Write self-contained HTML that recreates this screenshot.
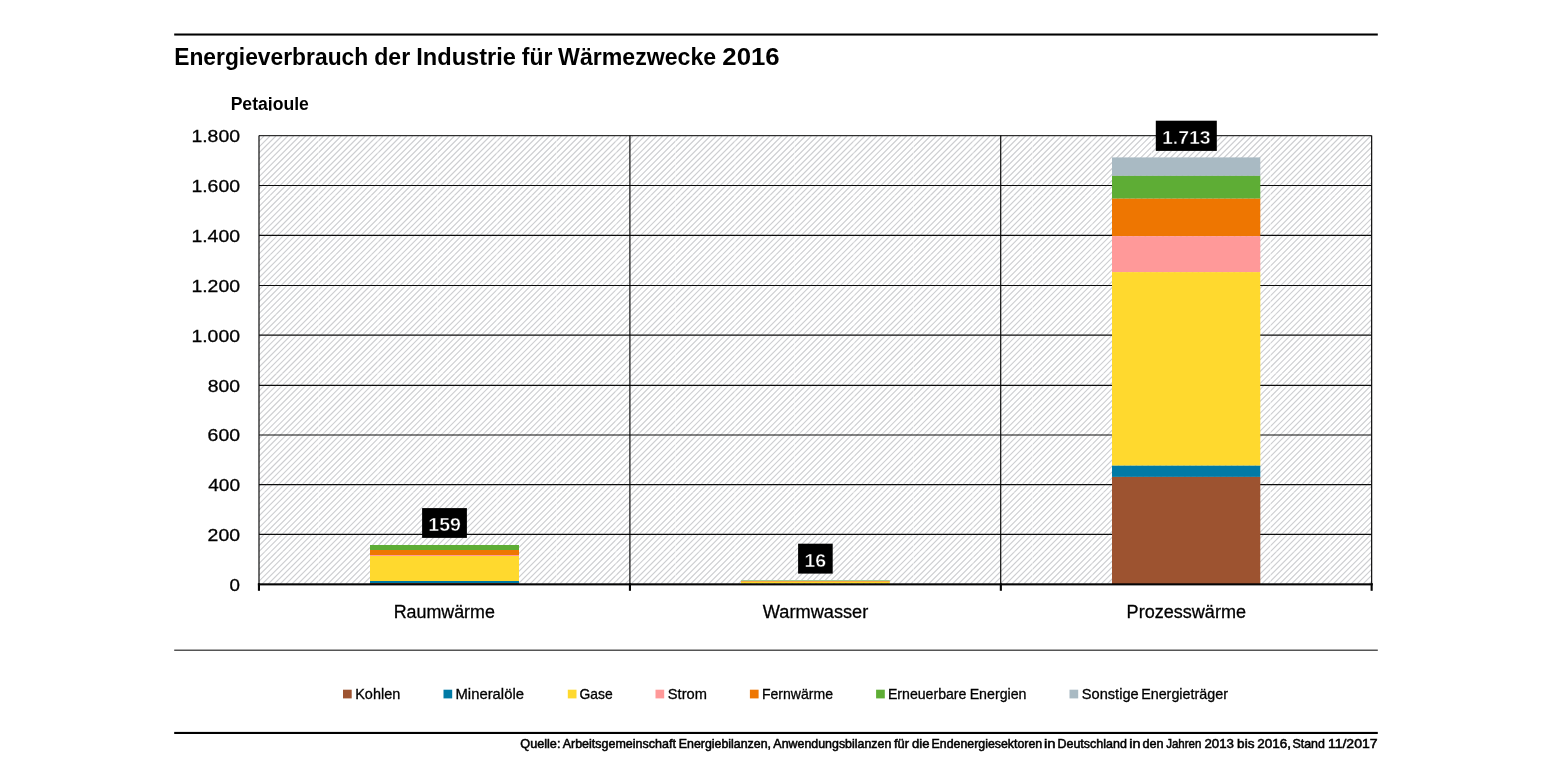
<!DOCTYPE html>
<html lang="de">
<head>
<meta charset="utf-8">
<title>Energieverbrauch der Industrie für Wärmezwecke 2016</title>
<style>
  html, body { margin: 0; padding: 0; background: #ffffff; }
  body { width: 1545px; height: 775px; overflow: hidden; position: relative;
         font-family: "Liberation Sans", sans-serif; }
  svg { position: absolute; left: 0; top: 0; display: block; will-change: transform; }
  text { font-family: "Liberation Sans", sans-serif; fill: #000; }
  .b { font-weight: bold; }
</style>
</head>
<body>
<svg width="1545" height="775" viewBox="0 0 1545 775">
  <defs>
    <clipPath id="plotclip"><rect x="259" y="135.6" width="1112.65" height="448.4"/></clipPath>
  </defs>

  <!-- top rule -->
  <rect x="174.2" y="33.5" width="1203.6" height="2.05" fill="#000"/>
  <!-- title -->
  <text class="b" y="64.80" font-size="24"><tspan x="174.19" textLength="194.01" lengthAdjust="spacingAndGlyphs">Energieverbrauch</tspan> <tspan x="374.25" textLength="35.87" lengthAdjust="spacingAndGlyphs">der</tspan> <tspan x="416.24" textLength="99.75" lengthAdjust="spacingAndGlyphs">Industrie</tspan> <tspan x="521.81" textLength="30.61" lengthAdjust="spacingAndGlyphs">für</tspan> <tspan x="558.08" textLength="158.11" lengthAdjust="spacingAndGlyphs">Wärmezwecke</tspan> <tspan x="722.32" textLength="57.29" lengthAdjust="spacingAndGlyphs">2016</tspan></text>
  <!-- unit label -->
  <text class="b" x="230.64" y="109.70" font-size="18.8" textLength="78.26" lengthAdjust="spacingAndGlyphs">Petajoule</text>
  <rect x="225" y="110.7" width="95" height="8" fill="#fff"/>
  <!-- plot area -->
  <rect x="259.0" y="135.6" width="1112.7" height="448.4" fill="#ffffff"/>
  <g clip-path="url(#plotclip)">
    <path d="M264.00,136L-184.00,584M269.95,136L-178.05,584M275.90,136L-172.10,584M281.85,136L-166.15,584M287.80,136L-160.20,584M293.75,136L-154.25,584M299.70,136L-148.30,584M305.65,136L-142.35,584M311.60,136L-136.40,584M317.55,136L-130.45,584M323.50,136L-124.50,584M329.45,136L-118.55,584M335.40,136L-112.60,584M341.35,136L-106.65,584M347.30,136L-100.70,584M353.25,136L-94.75,584M359.20,136L-88.80,584M365.15,136L-82.85,584M371.10,136L-76.90,584M377.05,136L-70.95,584M383.00,136L-65.00,584M388.95,136L-59.05,584M394.90,136L-53.10,584M400.85,136L-47.15,584M406.80,136L-41.20,584M412.75,136L-35.25,584M418.70,136L-29.30,584M424.65,136L-23.35,584M430.60,136L-17.40,584M436.55,136L-11.45,584M442.50,136L-5.50,584M448.45,136L0.45,584M454.40,136L6.40,584M460.35,136L12.35,584M466.30,136L18.30,584M472.25,136L24.25,584M478.20,136L30.20,584M484.15,136L36.15,584M490.10,136L42.10,584M496.05,136L48.05,584M502.00,136L54.00,584M507.95,136L59.95,584M513.90,136L65.90,584M519.85,136L71.85,584M525.80,136L77.80,584M531.75,136L83.75,584M537.70,136L89.70,584M543.65,136L95.65,584M549.60,136L101.60,584M555.55,136L107.55,584M561.50,136L113.50,584M567.45,136L119.45,584M573.40,136L125.40,584M579.35,136L131.35,584M585.30,136L137.30,584M591.25,136L143.25,584M597.20,136L149.20,584M603.15,136L155.15,584M609.10,136L161.10,584M615.05,136L167.05,584M621.00,136L173.00,584M626.95,136L178.95,584M632.90,136L184.90,584M638.85,136L190.85,584M644.80,136L196.80,584M650.75,136L202.75,584M656.70,136L208.70,584M662.65,136L214.65,584M668.60,136L220.60,584M674.55,136L226.55,584M680.50,136L232.50,584M686.45,136L238.45,584M692.40,136L244.40,584M698.35,136L250.35,584M704.30,136L256.30,584M710.25,136L262.25,584M716.20,136L268.20,584M722.15,136L274.15,584M728.10,136L280.10,584M734.05,136L286.05,584M740.00,136L292.00,584M745.95,136L297.95,584M751.90,136L303.90,584M757.85,136L309.85,584M763.80,136L315.80,584M769.75,136L321.75,584M775.70,136L327.70,584M781.65,136L333.65,584M787.60,136L339.60,584M793.55,136L345.55,584M799.50,136L351.50,584M805.45,136L357.45,584M811.40,136L363.40,584M817.35,136L369.35,584M823.30,136L375.30,584M829.25,136L381.25,584M835.20,136L387.20,584M841.15,136L393.15,584M847.10,136L399.10,584M853.05,136L405.05,584M859.00,136L411.00,584M864.95,136L416.95,584M870.90,136L422.90,584M876.85,136L428.85,584M882.80,136L434.80,584M888.75,136L440.75,584M894.70,136L446.70,584M900.65,136L452.65,584M906.60,136L458.60,584M912.55,136L464.55,584M918.50,136L470.50,584M924.45,136L476.45,584M930.40,136L482.40,584M936.35,136L488.35,584M942.30,136L494.30,584M948.25,136L500.25,584M954.20,136L506.20,584M960.15,136L512.15,584M966.10,136L518.10,584M972.05,136L524.05,584M978.00,136L530.00,584M983.95,136L535.95,584M989.90,136L541.90,584M995.85,136L547.85,584M1001.80,136L553.80,584M1007.75,136L559.75,584M1013.70,136L565.70,584M1019.65,136L571.65,584M1025.60,136L577.60,584M1031.55,136L583.55,584M1037.50,136L589.50,584M1043.45,136L595.45,584M1049.40,136L601.40,584M1055.35,136L607.35,584M1061.30,136L613.30,584M1067.25,136L619.25,584M1073.20,136L625.20,584M1079.15,136L631.15,584M1085.10,136L637.10,584M1091.05,136L643.05,584M1097.00,136L649.00,584M1102.95,136L654.95,584M1108.90,136L660.90,584M1114.85,136L666.85,584M1120.80,136L672.80,584M1126.75,136L678.75,584M1132.70,136L684.70,584M1138.65,136L690.65,584M1144.60,136L696.60,584M1150.55,136L702.55,584M1156.50,136L708.50,584M1162.45,136L714.45,584M1168.40,136L720.40,584M1174.35,136L726.35,584M1180.30,136L732.30,584M1186.25,136L738.25,584M1192.20,136L744.20,584M1198.15,136L750.15,584M1204.10,136L756.10,584M1210.05,136L762.05,584M1216.00,136L768.00,584M1221.95,136L773.95,584M1227.90,136L779.90,584M1233.85,136L785.85,584M1239.80,136L791.80,584M1245.75,136L797.75,584M1251.70,136L803.70,584M1257.65,136L809.65,584M1263.60,136L815.60,584M1269.55,136L821.55,584M1275.50,136L827.50,584M1281.45,136L833.45,584M1287.40,136L839.40,584M1293.35,136L845.35,584M1299.30,136L851.30,584M1305.25,136L857.25,584M1311.20,136L863.20,584M1317.15,136L869.15,584M1323.10,136L875.10,584M1329.05,136L881.05,584M1335.00,136L887.00,584M1340.95,136L892.95,584M1346.90,136L898.90,584M1352.85,136L904.85,584M1358.80,136L910.80,584M1364.75,136L916.75,584M1370.70,136L922.70,584M1376.65,136L928.65,584M1382.60,136L934.60,584M1388.55,136L940.55,584M1394.50,136L946.50,584M1400.45,136L952.45,584M1406.40,136L958.40,584M1412.35,136L964.35,584M1418.30,136L970.30,584M1424.25,136L976.25,584M1430.20,136L982.20,584M1436.15,136L988.15,584M1442.10,136L994.10,584M1448.05,136L1000.05,584M1454.00,136L1006.00,584M1459.95,136L1011.95,584M1465.90,136L1017.90,584M1471.85,136L1023.85,584M1477.80,136L1029.80,584M1483.75,136L1035.75,584M1489.70,136L1041.70,584M1495.65,136L1047.65,584M1501.60,136L1053.60,584M1507.55,136L1059.55,584M1513.50,136L1065.50,584M1519.45,136L1071.45,584M1525.40,136L1077.40,584M1531.35,136L1083.35,584M1537.30,136L1089.30,584M1543.25,136L1095.25,584M1549.20,136L1101.20,584M1555.15,136L1107.15,584M1561.10,136L1113.10,584M1567.05,136L1119.05,584M1573.00,136L1125.00,584M1578.95,136L1130.95,584M1584.90,136L1136.90,584M1590.85,136L1142.85,584M1596.80,136L1148.80,584M1602.75,136L1154.75,584M1608.70,136L1160.70,584M1614.65,136L1166.65,584M1620.60,136L1172.60,584M1626.55,136L1178.55,584M1632.50,136L1184.50,584M1638.45,136L1190.45,584M1644.40,136L1196.40,584M1650.35,136L1202.35,584M1656.30,136L1208.30,584M1662.25,136L1214.25,584M1668.20,136L1220.20,584M1674.15,136L1226.15,584M1680.10,136L1232.10,584M1686.05,136L1238.05,584M1692.00,136L1244.00,584M1697.95,136L1249.95,584M1703.90,136L1255.90,584M1709.85,136L1261.85,584M1715.80,136L1267.80,584M1721.75,136L1273.75,584M1727.70,136L1279.70,584M1733.65,136L1285.65,584M1739.60,136L1291.60,584M1745.55,136L1297.55,584M1751.50,136L1303.50,584M1757.45,136L1309.45,584M1763.40,136L1315.40,584M1769.35,136L1321.35,584M1775.30,136L1327.30,584M1781.25,136L1333.25,584M1787.20,136L1339.20,584M1793.15,136L1345.15,584M1799.10,136L1351.10,584M1805.05,136L1357.05,584M1811.00,136L1363.00,584M1816.95,136L1368.95,584M1822.90,136L1374.90,584" stroke="#cdced1" stroke-width="1.1" fill="none"/>
    <path d="M318.5,136V584M378.0,136V584M437.5,136V584M497.0,136V584M556.5,136V584M616.0,136V584M675.5,136V584M735.0,136V584M794.5,136V584M854.0,136V584M913.5,136V584M973.0,136V584M1032.5,136V584M1092.0,136V584M1151.5,136V584M1211.0,136V584M1270.5,136V584M1330.0,136V584" stroke="#ffffff" stroke-opacity="0.55" stroke-width="0.8" fill="none"/>
    <path d="M259,195.4H1372M259,254.8H1372M259,314.2H1372M259,373.6H1372M259,433.0H1372M259,492.4H1372M259,551.8H1372" stroke="#ffffff" stroke-opacity="0.4" stroke-width="0.7" fill="none"/>
  </g>
  <g stroke="#0c0c0c" stroke-width="1.2" fill="none">
    <line x1="259.0" y1="135.6" x2="1371.65" y2="135.6" stroke="#303030"/>
    <line x1="259.0" y1="185.5" x2="1371.65" y2="185.5"/>
    <line x1="259.0" y1="235.45" x2="1371.65" y2="235.45"/>
    <line x1="259.0" y1="285.5" x2="1371.65" y2="285.5"/>
    <line x1="259.0" y1="335.2" x2="1371.65" y2="335.2"/>
    <line x1="259.0" y1="385.3" x2="1371.65" y2="385.3"/>
    <line x1="259.0" y1="435.0" x2="1371.65" y2="435.0"/>
    <line x1="259.0" y1="484.65" x2="1371.65" y2="484.65"/>
    <line x1="259.0" y1="534.4" x2="1371.65" y2="534.4"/>
    <line x1="259.0" y1="135.6" x2="259.0" y2="584.0"/>
    <line x1="629.9" y1="135.6" x2="629.9" y2="584.0"/>
    <line x1="1000.7" y1="135.6" x2="1000.7" y2="584.0"/>
    <line x1="1371.65" y1="135.6" x2="1371.65" y2="584.0"/>
  </g>
  <!-- bar 1: Raumwärme -->
  <rect x="370" y="545" width="149" height="5" fill="#5ead35"/>
  <rect x="370" y="550" width="149" height="5" fill="#ee7601"/>
  <rect x="370" y="555" width="149" height="1" fill="#ff9999"/>
  <rect x="370" y="556" width="149" height="25" fill="#ffd92e"/>
  <rect x="370" y="581" width="149" height="2" fill="#007aa5"/>
  <rect x="370" y="583" width="149" height="1" fill="#9d5330"/>
  <!-- bar 2: Warmwasser -->
  <rect x="740.9" y="580" width="148.9" height="1" fill="#a3cc90"/>
  <rect x="740.9" y="581" width="148.9" height="1" fill="#f4a648"/>
  <rect x="740.9" y="582" width="148.9" height="1.5" fill="#fdd927"/>
  <!-- bar 3: Prozesswärme -->
  <rect x="1112" y="157.4" width="148.3" height="18.5" fill="#a9bac3"/>
  <rect x="1112" y="175.9" width="148.3" height="22.8" fill="#5ead35"/>
  <rect x="1112" y="198.7" width="148.3" height="37.5" fill="#ee7601"/>
  <rect x="1112" y="236.15" width="148.3" height="36.0" fill="#ff9999"/>
  <rect x="1112" y="272.1" width="148.3" height="193.6" fill="#ffd92e"/>
  <rect x="1112" y="465.7" width="148.3" height="11.2" fill="#007aa5"/>
  <rect x="1112" y="476.95" width="148.3" height="107.1" fill="#9d5330"/>
  <!-- x axis and ticks -->
  <rect x="257.9" y="583.3" width="1114.8" height="2.1" fill="#050505"/>
  <rect x="257.9" y="583.3" width="2.1" height="7.5" fill="#050505"/>
  <rect x="628.9" y="583.3" width="2.1" height="7.5" fill="#050505"/>
  <rect x="999.8" y="583.3" width="2.1" height="7.5" fill="#050505"/>
  <rect x="1370.6" y="583.3" width="2.1" height="7.5" fill="#050505"/>
  <!-- value labels -->
  <rect x="422.1" y="508.1" width="44.8" height="29.8" fill="#000"/>
  <text class="b" x="428.29" y="531.00" font-size="19" textLength="32.63" lengthAdjust="spacingAndGlyphs" style="fill:#fff;stroke:#000;stroke-width:0.45;">159</text>
  <rect x="798.1" y="543.7" width="34.6" height="29.9" fill="#000"/>
  <text class="b" x="804.49" y="566.90" font-size="19" textLength="21.70" lengthAdjust="spacingAndGlyphs" style="fill:#fff;stroke:#000;stroke-width:0.45;">16</text>
  <rect x="1155.8" y="120.7" width="61" height="30.2" fill="#000"/>
  <text class="b" x="1162.00" y="144.00" font-size="19" textLength="48.49" lengthAdjust="spacingAndGlyphs" style="fill:#fff;stroke:#000;stroke-width:0.45;">1.713</text>
  <!-- y axis labels -->
  <text x="191.42" y="141.90" font-size="17" textLength="48.62" lengthAdjust="spacingAndGlyphs" style="stroke:#000;stroke-width:0.3;">1.800</text>
  <text x="191.42" y="191.80" font-size="17" textLength="48.62" lengthAdjust="spacingAndGlyphs" style="stroke:#000;stroke-width:0.3;">1.600</text>
  <text x="191.42" y="241.75" font-size="17" textLength="48.62" lengthAdjust="spacingAndGlyphs" style="stroke:#000;stroke-width:0.3;">1.400</text>
  <text x="191.42" y="291.80" font-size="17" textLength="48.62" lengthAdjust="spacingAndGlyphs" style="stroke:#000;stroke-width:0.3;">1.200</text>
  <text x="191.42" y="341.50" font-size="17" textLength="48.62" lengthAdjust="spacingAndGlyphs" style="stroke:#000;stroke-width:0.3;">1.000</text>
  <text x="207.77" y="391.60" font-size="17" textLength="32.28" lengthAdjust="spacingAndGlyphs" style="stroke:#000;stroke-width:0.3;">800</text>
  <text x="207.63" y="441.30" font-size="17" textLength="32.42" lengthAdjust="spacingAndGlyphs" style="stroke:#000;stroke-width:0.3;">600</text>
  <text x="208.18" y="490.95" font-size="17" textLength="31.85" lengthAdjust="spacingAndGlyphs" style="stroke:#000;stroke-width:0.3;">400</text>
  <text x="207.63" y="540.70" font-size="17" textLength="32.42" lengthAdjust="spacingAndGlyphs" style="stroke:#000;stroke-width:0.3;">200</text>
  <text x="229.57" y="590.60" font-size="17" textLength="10.45" lengthAdjust="spacingAndGlyphs" style="stroke:#000;stroke-width:0.3;">0</text>
  <!-- category labels -->
  <text x="393.64" y="617.80" font-size="18.3" textLength="101.25" lengthAdjust="spacingAndGlyphs" style="stroke:#000;stroke-width:0.3;">Raumwärme</text>
  <text x="762.83" y="617.80" font-size="18.3" textLength="105.47" lengthAdjust="spacingAndGlyphs" style="stroke:#000;stroke-width:0.3;">Warmwasser</text>
  <text x="1126.62" y="617.80" font-size="18.3" textLength="119.37" lengthAdjust="spacingAndGlyphs" style="stroke:#000;stroke-width:0.3;">Prozesswärme</text>
  <!-- separator -->
  <rect x="174.2" y="649.5" width="1203.6" height="1.5" fill="#555"/>
  <!-- legend -->
  <rect x="343.0" y="689.7" width="8.7" height="8.7" fill="#9d5330"/>
  <rect x="443.5" y="689.7" width="8.7" height="8.7" fill="#007aa5"/>
  <rect x="567.8" y="689.7" width="8.7" height="8.7" fill="#ffd92e"/>
  <rect x="655.5" y="689.7" width="8.7" height="8.7" fill="#ff9999"/>
  <rect x="749.9" y="689.7" width="8.7" height="8.7" fill="#ee7601"/>
  <rect x="876.1" y="689.7" width="8.7" height="8.7" fill="#5ead35"/>
  <rect x="1069.5" y="689.7" width="8.7" height="8.7" fill="#a9bac3"/>
  <text y="699.00" font-size="14.4" style="stroke:#000;stroke-width:0.3;"><tspan x="355.21" textLength="45.01" lengthAdjust="spacingAndGlyphs">Kohlen</tspan></text>
  <text y="699.00" font-size="14.4" style="stroke:#000;stroke-width:0.3;"><tspan x="455.48" textLength="68.48" lengthAdjust="spacingAndGlyphs">Mineralöle</tspan></text>
  <text y="699.00" font-size="14.4" style="stroke:#000;stroke-width:0.3;"><tspan x="579.41" textLength="33.21" lengthAdjust="spacingAndGlyphs">Gase</tspan></text>
  <text y="699.00" font-size="14.4" style="stroke:#000;stroke-width:0.3;"><tspan x="667.84" textLength="39.11" lengthAdjust="spacingAndGlyphs">Strom</tspan></text>
  <text y="699.00" font-size="14.4" style="stroke:#000;stroke-width:0.3;"><tspan x="761.95" textLength="71.07" lengthAdjust="spacingAndGlyphs">Fernwärme</tspan></text>
  <text y="699.00" font-size="14.4" style="stroke:#000;stroke-width:0.3;"><tspan x="887.94" textLength="78.48" lengthAdjust="spacingAndGlyphs">Erneuerbare</tspan> <tspan x="969.63" textLength="56.87" lengthAdjust="spacingAndGlyphs">Energien</tspan></text>
  <text y="699.00" font-size="14.4" style="stroke:#000;stroke-width:0.3;"><tspan x="1081.84" textLength="56.81" lengthAdjust="spacingAndGlyphs">Sonstige</tspan> <tspan x="1141.13" textLength="86.81" lengthAdjust="spacingAndGlyphs">Energieträger</tspan></text>
  <!-- bottom rule -->
  <rect x="174.2" y="731.9" width="1203.6" height="2.1" fill="#000"/>
  <!-- source -->
  <text y="747.90" font-size="11.9" style="stroke:#000;stroke-width:0.5;"><tspan x="520.30" textLength="40.14" lengthAdjust="spacingAndGlyphs">Quelle:</tspan> <tspan x="562.68" textLength="113.21" lengthAdjust="spacingAndGlyphs">Arbeitsgemeinschaft</tspan> <tspan x="678.78" textLength="92.23" lengthAdjust="spacingAndGlyphs">Energiebilanzen,</tspan> <tspan x="773.38" textLength="117.92" lengthAdjust="spacingAndGlyphs">Anwendungsbilanzen</tspan> <tspan x="894.02" textLength="15.09" lengthAdjust="spacingAndGlyphs">für</tspan> <tspan x="912.05" textLength="17.43" lengthAdjust="spacingAndGlyphs">die</tspan> <tspan x="931.59" textLength="110.60" lengthAdjust="spacingAndGlyphs">Endenergiesektoren</tspan> <tspan x="1043.92" textLength="11.53" lengthAdjust="spacingAndGlyphs">in</tspan> <tspan x="1057.48" textLength="69.42" lengthAdjust="spacingAndGlyphs">Deutschland</tspan> <tspan x="1129.25" textLength="11.17" lengthAdjust="spacingAndGlyphs">in</tspan> <tspan x="1142.47" textLength="21.15" lengthAdjust="spacingAndGlyphs">den</tspan> <tspan x="1166.13" textLength="35.22" lengthAdjust="spacingAndGlyphs">Jahren</tspan> <tspan x="1204.44" textLength="29.54" lengthAdjust="spacingAndGlyphs">2013</tspan> <tspan x="1237.13" textLength="17.36" lengthAdjust="spacingAndGlyphs">bis</tspan> <tspan x="1257.33" textLength="33.78" lengthAdjust="spacingAndGlyphs">2016,</tspan> <tspan x="1292.44" textLength="32.46" lengthAdjust="spacingAndGlyphs">Stand</tspan> <tspan x="1327.94" textLength="49.57" lengthAdjust="spacingAndGlyphs">11/2017</tspan></text>
</svg>
</body>
</html>
